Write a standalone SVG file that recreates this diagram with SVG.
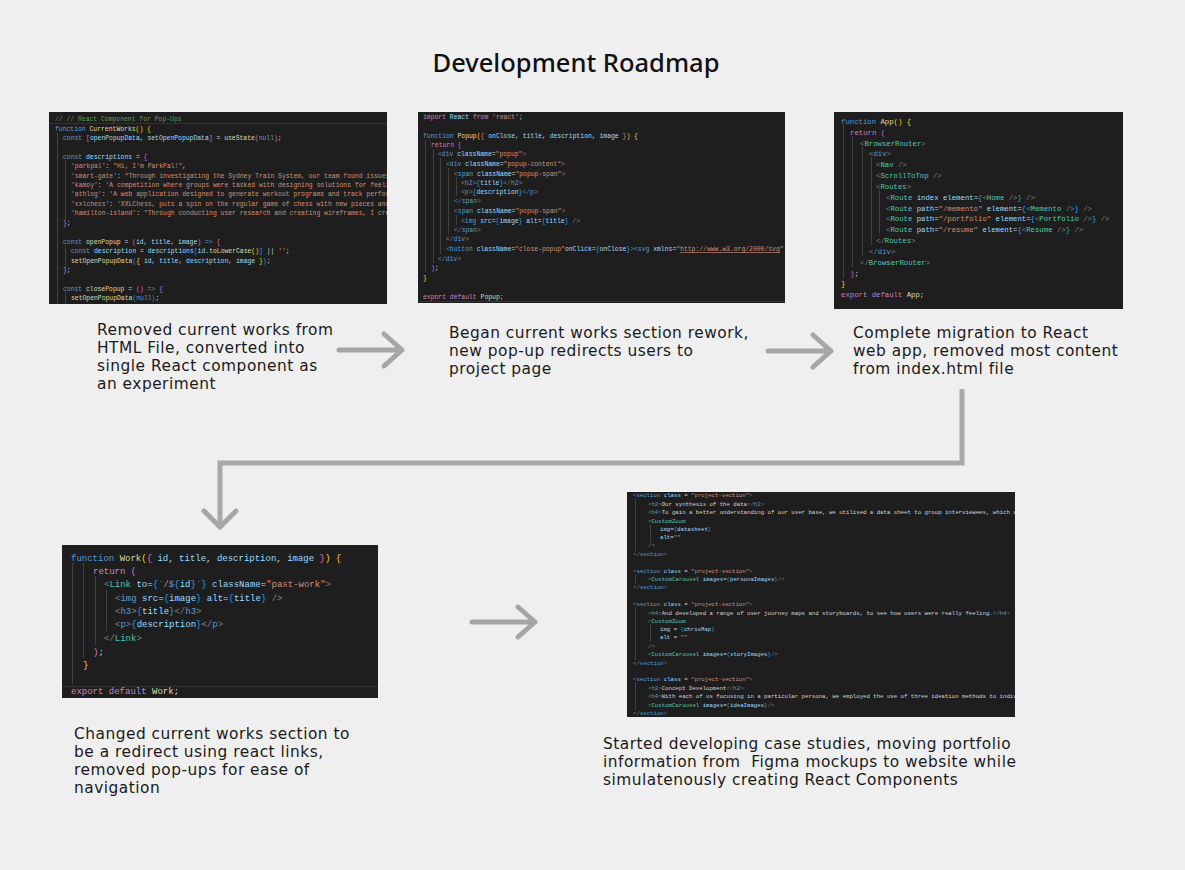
<svg xmlns="http://www.w3.org/2000/svg" width="1185" height="870" viewBox="0 0 1185 870">
<style>
.bg{fill:#efefef}
.img{fill:#1e1e1e}
.code{font-family:"Liberation Mono","DejaVu Sans Mono",monospace;fill:#d4d4d4}
.k{fill:#569cd6}.c{fill:#c586c0}.f{fill:#dcdcaa}.v{fill:#9cdcfe}.s{fill:#ce9178}.g{fill:#6a9955}.t{fill:#808080}.n{fill:#4ec9b0}.y{fill:#ffd700}.m{fill:#da70d6}.b{fill:#179fff}
.guide{stroke:#404040;stroke-width:1}
.sep{stroke:#333;stroke-width:1}
.lbl{font-family:"DejaVu Sans","Noto Sans",sans-serif;font-size:15.4px;letter-spacing:0.5px;fill:#1a1a1a}
.title{font-family:"Noto Sans","Open Sans",sans-serif;font-size:25.5px;font-weight:500;fill:#111}
.arr{fill:none;stroke:#a6a6a6;stroke-width:5;stroke-linecap:round;stroke-linejoin:round}
.elb{fill:none;stroke:#a9a9a9;stroke-width:5}
</style>
<defs>
<clipPath id="c1"><rect x="49" y="112" width="338" height="192"/></clipPath>
<clipPath id="c2"><rect x="418" y="112" width="367" height="191"/></clipPath>
<clipPath id="c3"><rect x="834" y="112" width="289" height="197"/></clipPath>
<clipPath id="c4"><rect x="62" y="545" width="316" height="153"/></clipPath>
<clipPath id="c5"><rect x="627" y="492" width="388" height="225"/></clipPath>
</defs>
<rect class="bg" x="0" y="0" width="1185" height="870"/>
<text class="title" x="576" y="72" text-anchor="middle">Development Roadmap</text>

<g id="step1">
<rect class="img" x="49" y="112" width="338" height="192"/>
<g clip-path="url(#c1)">
<line class="sep" x1="49" y1="123.5" x2="387" y2="123.5"/>
<line class="guide" x1="57.5" y1="132" x2="57.5" y2="304"/>
<line class="guide" x1="65.5" y1="160" x2="65.5" y2="220"/>
<line class="guide" x1="65.5" y1="245" x2="65.5" y2="267"/>
<line class="guide" x1="65.5" y1="292" x2="65.5" y2="304"/>
<g class="code" font-size="6.4">
<text x="55" y="121"><tspan class="g">// // React Component for Pop-Ups</tspan></text>
<text x="55" y="131"><tspan class="k">function</tspan> <tspan class="f">CurrentWorks</tspan><tspan class="y">() {</tspan></text>
<text x="63" y="140"><tspan class="k">const</tspan> <tspan class="m">[</tspan><tspan class="v">openPopupData</tspan>, <tspan class="v">setOpenPopupData</tspan><tspan class="m">]</tspan> = <tspan class="f">useState</tspan><tspan class="m">(</tspan><tspan class="k">null</tspan><tspan class="m">)</tspan>;</text>
<text x="63" y="159"><tspan class="k">const</tspan> <tspan class="v">descriptions</tspan> = <tspan class="m">{</tspan></text>
<text x="71" y="168"><tspan class="s">'parkpal'</tspan>: <tspan class="s">"Hi, I'm ParkPal!"</tspan>,</text>
<text x="71" y="178"><tspan class="s">'smart-gate'</tspan>: <tspan class="s">"Through investigating the Sydney Train System, our team found issues with</tspan></text>
<text x="71" y="187"><tspan class="s">'kamoy'</tspan>: <tspan class="s">'A competition where groups were tasked with designing solutions for feelings</tspan></text>
<text x="71" y="196"><tspan class="s">'athlog'</tspan>: <tspan class="s">'A web application designed to generate workout programs and track performance</tspan></text>
<text x="71" y="206"><tspan class="s">'xxlchess'</tspan>: <tspan class="s">'XXLChess, puts a spin on the regular game of chess with new pieces and</tspan></text>
<text x="71" y="215"><tspan class="s">'hamilton-island'</tspan>: <tspan class="s">"Through conducting user research and creating wireframes, I created</tspan></text>
<text x="63" y="225"><tspan class="m">}</tspan>;</text>
<text x="63" y="244"><tspan class="k">const</tspan> <tspan class="f">openPopup</tspan> = <tspan class="m">(</tspan><tspan class="v">id</tspan>, <tspan class="v">title</tspan>, <tspan class="v">image</tspan><tspan class="m">)</tspan> <tspan class="k">=&gt;</tspan> <tspan class="m">{</tspan></text>
<text x="71" y="253"><tspan class="k">const</tspan> <tspan class="v">description</tspan> = <tspan class="v">descriptions</tspan><tspan class="b">[</tspan><tspan class="v">id</tspan>.<tspan class="f">toLowerCase</tspan><tspan class="y">()</tspan><tspan class="b">]</tspan> || <tspan class="s">''</tspan>;</text>
<text x="71" y="263"><tspan class="f">setOpenPopupData</tspan><tspan class="b">(</tspan><tspan class="y">{</tspan> <tspan class="v">id</tspan>, <tspan class="v">title</tspan>, <tspan class="v">description</tspan>, <tspan class="v">image</tspan> <tspan class="y">}</tspan><tspan class="b">)</tspan>;</text>
<text x="63" y="272"><tspan class="m">}</tspan>;</text>
<text x="63" y="291"><tspan class="k">const</tspan> <tspan class="f">closePopup</tspan> = <tspan class="m">()</tspan> <tspan class="k">=&gt;</tspan> <tspan class="m">{</tspan></text>
<text x="71" y="300"><tspan class="f">setOpenPopupData</tspan><tspan class="b">(</tspan><tspan class="k">null</tspan><tspan class="b">)</tspan>;</text>
</g>
</g>
<text class="lbl" x="97" y="335">Removed current works from</text>
<text class="lbl" x="97" y="353">HTML File, converted into</text>
<text class="lbl" x="97" y="371">single React component as</text>
<text class="lbl" x="97" y="389">an experiment</text>
</g>

<g id="step2">
<rect class="img" x="418" y="112" width="367" height="191"/>
<g clip-path="url(#c2)">
<line class="sep" x1="418" y1="301.5" x2="785" y2="301.5"/>
<line class="guide" x1="425.5" y1="140" x2="425.5" y2="272"/>
<line class="guide" x1="433.5" y1="149" x2="433.5" y2="263"/>
<line class="guide" x1="440.5" y1="158" x2="440.5" y2="254"/>
<line class="guide" x1="448.5" y1="168" x2="448.5" y2="234"/>
<line class="guide" x1="456.5" y1="177" x2="456.5" y2="196"/>
<line class="guide" x1="456.5" y1="215" x2="456.5" y2="225"/>
<g class="code" font-size="6.4">
<text x="423" y="119"><tspan class="c">import</tspan> <tspan class="v">React</tspan> <tspan class="c">from</tspan> <tspan class="s">'react'</tspan>;</text>
<text x="423" y="138"><tspan class="k">function</tspan> <tspan class="f">Popup</tspan><tspan class="y">(</tspan><tspan class="m">{</tspan> <tspan class="v">onClose</tspan>, <tspan class="v">title</tspan>, <tspan class="v">description</tspan>, <tspan class="v">image</tspan> <tspan class="m">}</tspan><tspan class="y">)</tspan> <tspan class="y">{</tspan></text>
<text x="431" y="147"><tspan class="c">return</tspan> <tspan class="m">(</tspan></text>
<text x="438" y="156"><tspan class="t">&lt;</tspan><tspan class="k">div</tspan> <tspan class="v">className</tspan>=<tspan class="s">"popup"</tspan><tspan class="t">&gt;</tspan></text>
<text x="446" y="166"><tspan class="t">&lt;</tspan><tspan class="k">div</tspan> <tspan class="v">className</tspan>=<tspan class="s">"popup-content"</tspan><tspan class="t">&gt;</tspan></text>
<text x="454" y="176"><tspan class="t">&lt;</tspan><tspan class="k">span</tspan> <tspan class="v">className</tspan>=<tspan class="s">"popup-span"</tspan><tspan class="t">&gt;</tspan></text>
<text x="461" y="185"><tspan class="t">&lt;</tspan><tspan class="k">h2</tspan><tspan class="t">&gt;</tspan><tspan class="b">{</tspan><tspan class="v">title</tspan><tspan class="b">}</tspan><tspan class="t">&lt;/</tspan><tspan class="k">h2</tspan><tspan class="t">&gt;</tspan></text>
<text x="461" y="194"><tspan class="t">&lt;</tspan><tspan class="k">p</tspan><tspan class="t">&gt;</tspan><tspan class="b">{</tspan><tspan class="v">description</tspan><tspan class="b">}</tspan><tspan class="t">&lt;/</tspan><tspan class="k">p</tspan><tspan class="t">&gt;</tspan></text>
<text x="454" y="203"><tspan class="t">&lt;/</tspan><tspan class="k">span</tspan><tspan class="t">&gt;</tspan></text>
<text x="454" y="213"><tspan class="t">&lt;</tspan><tspan class="k">span</tspan> <tspan class="v">className</tspan>=<tspan class="s">"popup-span"</tspan><tspan class="t">&gt;</tspan></text>
<text x="461" y="223"><tspan class="t">&lt;</tspan><tspan class="k">img</tspan> <tspan class="v">src</tspan>=<tspan class="b">{</tspan><tspan class="v">image</tspan><tspan class="b">}</tspan> <tspan class="v">alt</tspan>=<tspan class="b">{</tspan><tspan class="v">title</tspan><tspan class="b">}</tspan> <tspan class="t">/&gt;</tspan></text>
<text x="454" y="232"><tspan class="t">&lt;/</tspan><tspan class="k">span</tspan><tspan class="t">&gt;</tspan></text>
<text x="446" y="241"><tspan class="t">&lt;/</tspan><tspan class="k">div</tspan><tspan class="t">&gt;</tspan></text>
<text x="446" y="251"><tspan class="t">&lt;</tspan><tspan class="k">button</tspan> <tspan class="v">className</tspan>=<tspan class="s">"close-popup"</tspan><tspan class="v">onClick</tspan>=<tspan class="b">{</tspan><tspan class="v">onClose</tspan><tspan class="b">}</tspan><tspan class="t">&gt;&lt;</tspan><tspan class="k">svg</tspan> <tspan class="v">xmlns</tspan>=<tspan class="s">"</tspan><tspan class="s" text-decoration="underline">http://www.w3.org/2000/svg</tspan><tspan class="s">"</tspan></text>
<text x="438" y="261"><tspan class="t">&lt;/</tspan><tspan class="k">div</tspan><tspan class="t">&gt;</tspan></text>
<text x="431" y="270"><tspan class="m">)</tspan>;</text>
<text x="423" y="280"><tspan class="y">}</tspan></text>
<text x="423" y="299"><tspan class="c">export</tspan> <tspan class="c">default</tspan> <tspan class="f">Popup</tspan>;</text>
</g>
</g>
<text class="lbl" x="449" y="338">Began current works section rework,</text>
<text class="lbl" x="449" y="356">new pop-up redirects users to</text>
<text class="lbl" x="449" y="374">project page</text>
</g>

<g id="step3">
<rect class="img" x="834" y="112" width="289" height="197"/>
<g clip-path="url(#c3)">
<line class="guide" x1="843.5" y1="125" x2="843.5" y2="278"/>
<line class="guide" x1="852.5" y1="136" x2="852.5" y2="267"/>
<line class="guide" x1="862.5" y1="147" x2="862.5" y2="256"/>
<line class="guide" x1="871.5" y1="157" x2="871.5" y2="245"/>
<line class="guide" x1="879.5" y1="190" x2="879.5" y2="234"/>
<g class="code" font-size="7.3">
<text x="841" y="123.5"><tspan class="k">function</tspan> <tspan class="f">App</tspan><tspan class="y">() {</tspan></text>
<text x="850" y="134.5"><tspan class="c">return</tspan> <tspan class="m">(</tspan></text>
<text x="860" y="145.5"><tspan class="t">&lt;</tspan><tspan class="n">BrowserRouter</tspan><tspan class="t">&gt;</tspan></text>
<text x="869" y="155.5"><tspan class="t">&lt;</tspan><tspan class="k">div</tspan><tspan class="t">&gt;</tspan></text>
<text x="876" y="166.5"><tspan class="t">&lt;</tspan><tspan class="n">Nav</tspan> <tspan class="t">/&gt;</tspan></text>
<text x="876" y="177.5"><tspan class="t">&lt;</tspan><tspan class="n">ScrollToTop</tspan> <tspan class="t">/&gt;</tspan></text>
<text x="876" y="188.5"><tspan class="t">&lt;</tspan><tspan class="n">Routes</tspan><tspan class="t">&gt;</tspan></text>
<text x="886" y="199.5"><tspan class="t">&lt;</tspan><tspan class="n">Route</tspan> <tspan class="v">index</tspan> <tspan class="v">element</tspan>=<tspan class="b">{</tspan><tspan class="t">&lt;</tspan><tspan class="n">Home</tspan> <tspan class="t">/&gt;</tspan><tspan class="b">}</tspan> <tspan class="t">/&gt;</tspan></text>
<text x="886" y="210.5"><tspan class="t">&lt;</tspan><tspan class="n">Route</tspan> <tspan class="v">path</tspan>=<tspan class="s">"/memento"</tspan> <tspan class="v">element</tspan>=<tspan class="b">{</tspan><tspan class="t">&lt;</tspan><tspan class="n">Memento</tspan> <tspan class="t">/&gt;</tspan><tspan class="b">}</tspan> <tspan class="t">/&gt;</tspan></text>
<text x="886" y="220.5"><tspan class="t">&lt;</tspan><tspan class="n">Route</tspan> <tspan class="v">path</tspan>=<tspan class="s">"/portfolio"</tspan> <tspan class="v">element</tspan>=<tspan class="b">{</tspan><tspan class="t">&lt;</tspan><tspan class="n">Portfolio</tspan> <tspan class="t">/&gt;</tspan><tspan class="b">}</tspan> <tspan class="t">/&gt;</tspan></text>
<text x="886" y="231.5"><tspan class="t">&lt;</tspan><tspan class="n">Route</tspan> <tspan class="v">path</tspan>=<tspan class="s">"/resume"</tspan> <tspan class="v">element</tspan>=<tspan class="b">{</tspan><tspan class="t">&lt;</tspan><tspan class="n">Resume</tspan> <tspan class="t">/&gt;</tspan><tspan class="b">}</tspan> <tspan class="t">/&gt;</tspan></text>
<text x="876" y="242.5"><tspan class="t">&lt;/</tspan><tspan class="n">Routes</tspan><tspan class="t">&gt;</tspan></text>
<text x="869" y="253.5"><tspan class="t">&lt;/</tspan><tspan class="k">div</tspan><tspan class="t">&gt;</tspan></text>
<text x="860" y="264.5"><tspan class="t">&lt;/</tspan><tspan class="n">BrowserRouter</tspan><tspan class="t">&gt;</tspan></text>
<text x="850" y="275.5"><tspan class="m">)</tspan>;</text>
<text x="841" y="285.5"><tspan class="y">}</tspan></text>
<text x="841" y="296.5"><tspan class="c">export</tspan> <tspan class="c">default</tspan> <tspan class="f">App</tspan>;</text>
</g>
</g>
<text class="lbl" x="853" y="338">Complete migration to React</text>
<text class="lbl" x="853" y="356">web app, removed most content</text>
<text class="lbl" x="853" y="374">from index.html file</text>
</g>

<g id="step4">
<rect class="img" x="62" y="545" width="316" height="153"/>
<g clip-path="url(#c4)">
<line class="sep" x1="62" y1="686.5" x2="378" y2="686.5"/>
<line class="guide" x1="72.5" y1="563" x2="72.5" y2="684"/>
<line class="guide" x1="83.5" y1="563" x2="83.5" y2="658"/>
<line class="guide" x1="95.5" y1="576" x2="95.5" y2="645"/>
<line class="guide" x1="106.5" y1="589" x2="106.5" y2="631"/>
<g class="code" font-size="9">
<text x="71" y="561"><tspan class="k">function</tspan> <tspan class="f">Work</tspan><tspan class="y">(</tspan><tspan class="m">{</tspan> <tspan class="v">id</tspan>, <tspan class="v">title</tspan>, <tspan class="v">description</tspan>, <tspan class="v">image</tspan> <tspan class="m">}</tspan><tspan class="y">)</tspan> <tspan class="y">{</tspan></text>
<text x="93" y="574"><tspan class="c">return</tspan> <tspan class="m">(</tspan></text>
<text x="104" y="587"><tspan class="t">&lt;</tspan><tspan class="n">Link</tspan> <tspan class="v">to</tspan>=<tspan class="b">{</tspan><tspan class="s">`/</tspan><tspan class="k">${</tspan><tspan class="v">id</tspan><tspan class="k">}</tspan><tspan class="s">`</tspan><tspan class="b">}</tspan> <tspan class="v">className</tspan>=<tspan class="s">"past-work"</tspan><tspan class="t">&gt;</tspan></text>
<text x="115" y="601"><tspan class="t">&lt;</tspan><tspan class="k">img</tspan> <tspan class="v">src</tspan>=<tspan class="b">{</tspan><tspan class="v">image</tspan><tspan class="b">}</tspan> <tspan class="v">alt</tspan>=<tspan class="b">{</tspan><tspan class="v">title</tspan><tspan class="b">}</tspan> <tspan class="t">/&gt;</tspan></text>
<text x="115" y="614"><tspan class="t">&lt;</tspan><tspan class="k">h3</tspan><tspan class="t">&gt;</tspan><tspan class="b">{</tspan><tspan class="v">title</tspan><tspan class="b">}</tspan><tspan class="t">&lt;/</tspan><tspan class="k">h3</tspan><tspan class="t">&gt;</tspan></text>
<text x="115" y="627"><tspan class="t">&lt;</tspan><tspan class="k">p</tspan><tspan class="t">&gt;</tspan><tspan class="b">{</tspan><tspan class="v">description</tspan><tspan class="b">}</tspan><tspan class="t">&lt;/</tspan><tspan class="k">p</tspan><tspan class="t">&gt;</tspan></text>
<text x="104" y="641"><tspan class="t">&lt;/</tspan><tspan class="n">Link</tspan><tspan class="t">&gt;</tspan></text>
<text x="93" y="655"><tspan class="m">)</tspan>;</text>
<text x="83" y="668"><tspan class="y">}</tspan></text>
<text x="71" y="694"><tspan class="c">export</tspan> <tspan class="c">default</tspan> <tspan class="f">Work</tspan>;</text>
</g>
</g>
<text class="lbl" x="74" y="739">Changed current works section to</text>
<text class="lbl" x="74" y="757">be a redirect using react links,</text>
<text class="lbl" x="74" y="775">removed pop-ups for ease of</text>
<text class="lbl" x="74" y="793">navigation</text>
</g>

<g id="step5">
<rect class="img" x="627" y="492" width="388" height="225"/>
<g clip-path="url(#c5)">
<line class="guide" x1="635.5" y1="499" x2="635.5" y2="551"/>
<line class="guide" x1="650.5" y1="524" x2="650.5" y2="542"/>
<line class="guide" x1="635.5" y1="574" x2="635.5" y2="584"/>
<line class="guide" x1="635.5" y1="607" x2="635.5" y2="660"/>
<line class="guide" x1="650.5" y1="624" x2="650.5" y2="642"/>
<line class="guide" x1="635.5" y1="682" x2="635.5" y2="710"/>
<g class="code" font-size="5.7">
<text x="633" y="497"><tspan class="t">&lt;</tspan><tspan class="k">section</tspan> <tspan class="v">class</tspan> = <tspan class="s">"project-section"</tspan><tspan class="t">&gt;</tspan></text>
<text x="648" y="506"><tspan class="t">&lt;</tspan><tspan class="k">h2</tspan><tspan class="t">&gt;</tspan>Our synthesis of the data<tspan class="t">&lt;/</tspan><tspan class="k">h2</tspan><tspan class="t">&gt;</tspan></text>
<text x="648" y="514"><tspan class="t">&lt;</tspan><tspan class="k">h4</tspan><tspan class="t">&gt;</tspan>To gain a better understanding of our user base, we utilised a data sheet to group interviewees, which accurately</text>
<text x="648" y="523"><tspan class="t">&lt;</tspan><tspan class="n">CustomZoom</tspan></text>
<text x="660" y="531"><tspan class="v">img</tspan>=<tspan class="b">{</tspan><tspan class="v">datasheet</tspan><tspan class="b">}</tspan></text>
<text x="660" y="539"><tspan class="v">alt</tspan>=<tspan class="s">""</tspan></text>
<text x="648" y="547"><tspan class="t">/&gt;</tspan></text>
<text x="633" y="556"><tspan class="t">&lt;/</tspan><tspan class="k">section</tspan><tspan class="t">&gt;</tspan></text>
<text x="633" y="573"><tspan class="t">&lt;</tspan><tspan class="k">section</tspan> <tspan class="v">class</tspan> = <tspan class="s">"project-section"</tspan><tspan class="t">&gt;</tspan></text>
<text x="648" y="581"><tspan class="t">&lt;</tspan><tspan class="n">CustomCarousel</tspan> <tspan class="v">images</tspan>=<tspan class="b">{</tspan><tspan class="v">personaImages</tspan><tspan class="b">}</tspan><tspan class="t">/&gt;</tspan></text>
<text x="633" y="589"><tspan class="t">&lt;/</tspan><tspan class="k">section</tspan><tspan class="t">&gt;</tspan></text>
<text x="633" y="606"><tspan class="t">&lt;</tspan><tspan class="k">section</tspan> <tspan class="v">class</tspan> = <tspan class="s">"project-section"</tspan><tspan class="t">&gt;</tspan></text>
<text x="648" y="615"><tspan class="t">&lt;</tspan><tspan class="k">h4</tspan><tspan class="t">&gt;</tspan>And developed a range of user journey maps and storyboards, to see how users were really feeling.<tspan class="t">&lt;/</tspan><tspan class="k">h4</tspan><tspan class="t">&gt;</tspan></text>
<text x="648" y="623"><tspan class="t">&lt;</tspan><tspan class="n">CustomZoom</tspan></text>
<text x="660" y="631"><tspan class="v">img</tspan> = <tspan class="b">{</tspan><tspan class="v">chrisMap</tspan><tspan class="b">}</tspan></text>
<text x="660" y="639"><tspan class="v">alt</tspan> = <tspan class="s">""</tspan></text>
<text x="648" y="648"><tspan class="t">/&gt;</tspan></text>
<text x="648" y="656"><tspan class="t">&lt;</tspan><tspan class="n">CustomCarousel</tspan> <tspan class="v">images</tspan>=<tspan class="b">{</tspan><tspan class="v">storyImages</tspan><tspan class="b">}</tspan><tspan class="t">/&gt;</tspan></text>
<text x="633" y="665"><tspan class="t">&lt;/</tspan><tspan class="k">section</tspan><tspan class="t">&gt;</tspan></text>
<text x="633" y="681"><tspan class="t">&lt;</tspan><tspan class="k">section</tspan> <tspan class="v">class</tspan> = <tspan class="s">"project-section"</tspan><tspan class="t">&gt;</tspan></text>
<text x="648" y="690"><tspan class="t">&lt;</tspan><tspan class="k">h2</tspan><tspan class="t">&gt;</tspan>Concept Development<tspan class="t">&lt;/</tspan><tspan class="k">h2</tspan><tspan class="t">&gt;</tspan></text>
<text x="648" y="698"><tspan class="t">&lt;</tspan><tspan class="k">h4</tspan><tspan class="t">&gt;</tspan>With each of us focusing in a particular persona, we employed the use of three ideation methods to individually</text>
<text x="648" y="707"><tspan class="t">&lt;</tspan><tspan class="n">CustomCarousel</tspan> <tspan class="v">images</tspan>=<tspan class="b">{</tspan><tspan class="v">ideaImages</tspan><tspan class="b">}</tspan><tspan class="t">/&gt;</tspan></text>
<text x="633" y="715"><tspan class="t">&lt;/</tspan><tspan class="k">section</tspan><tspan class="t">&gt;</tspan></text>
</g>
</g>
<text class="lbl" x="603" y="749">Started developing case studies, moving portfolio</text>
<text class="lbl" x="603" y="767" xml:space="preserve">information from  Figma mockups to website while</text>
<text class="lbl" x="603" y="785">simulatenously creating React Components</text>
</g>

<g id="connectors">
<path class="arr" d="M339,350 H402 M384,334 L402,350 L384,366"/>
<path class="arr" d="M768,351 H831 M813,335 L831,351 L813,367"/>
<path class="elb" d="M962,389 V463 H220 V525"/>
<path class="arr" d="M204,511 L220,527 L236,511"/>
<path class="arr" d="M472,622 H535 M518,607 L535,622 L518,637"/>
</g>
</svg>
